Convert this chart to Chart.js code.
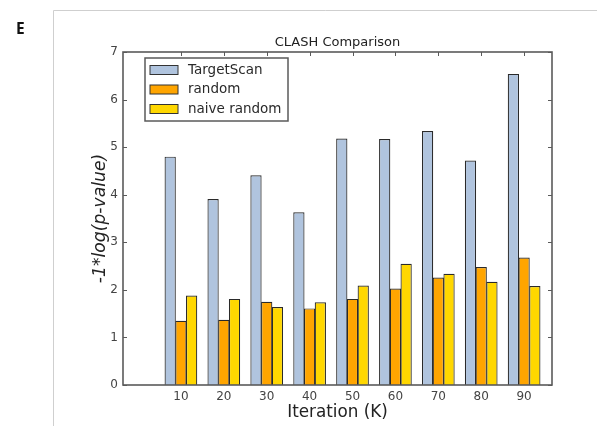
<!DOCTYPE html>
<html>
<head>
<meta charset="utf-8">
<script src="https://cdn.jsdelivr.net/npm/chart.js@4/dist/chart.umd.min.js"></script>
<style>
  html, body { margin: 0; padding: 0; background: #fff; }
  #c { display: block; }
</style>
</head>
<body>
<canvas id="c" width="597" height="426"></canvas>
<script>
// Iterations (thousands) and -1*log(p-value) per method
const iterations = [10, 20, 30, 40, 50, 60, 70, 80, 90];
const targetScan = [4.80, 3.91, 4.41, 3.63, 5.18, 5.17, 5.34, 4.72, 6.54];
const randomSet = [1.35, 1.37, 1.75, 1.61, 1.81, 2.03, 2.26, 2.48, 2.68];
const naiveRandom = [1.88, 1.81, 1.64, 1.74, 2.09, 2.55, 2.34, 2.17, 2.08];
const yTicks = [0, 1, 2, 3, 4, 5, 6, 7];
const seriesNames = ['TargetScan', 'random', 'naive random'];

const FONT = "'DejaVu Sans', sans-serif";
const AXIS_COLOR = '#5a5a5a';

function points(values) {
  return iterations.map((x, i) => ({ x: x, y: values[i] }));
}

// Figure decorations: panel letter, outer frame, plot title, axes box with inward ticks, legend
const decor = {
  id: 'decor',
  beforeDraw(chart) {
    const ctx = chart.ctx;
    ctx.save();
    ctx.strokeStyle = '#cfcfcf';
    ctx.lineWidth = 1;
    ctx.beginPath();
    ctx.moveTo(53.5, 426);
    ctx.lineTo(53.5, 10.5);
    ctx.lineTo(597, 10.5);
    ctx.stroke();
    ctx.fillStyle = '#111';
    ctx.font = "bold 15.5px 'Open Sans', sans-serif";
    ctx.textBaseline = 'alphabetic';
    ctx.fillText('E', 16, 33.5);
    ctx.restore();
  },
  afterDatasetsDraw(chart) {
    const ctx = chart.ctx;
    const a = chart.chartArea;
    const xs = chart.scales.x, ys = chart.scales.y;
    ctx.save();
    // title
    ctx.fillStyle = '#222';
    ctx.font = '13px ' + FONT;
    ctx.textAlign = 'center';
    ctx.textBaseline = 'middle';
    ctx.fillText('CLASH Comparison', (a.left + a.right) / 2, 42.5);

    // axes box
    ctx.strokeStyle = AXIS_COLOR;
    ctx.lineWidth = 1.6;
    ctx.strokeRect(a.left, a.top, a.right - a.left, a.bottom - a.top);

    // inward tick marks
    ctx.lineWidth = 1;
    ctx.beginPath();
    yTicks.forEach(v => {
      const py = Math.round(ys.getPixelForValue(v)) + 0.5;
      ctx.moveTo(a.left, py); ctx.lineTo(a.left + 4, py);
      ctx.moveTo(a.right, py); ctx.lineTo(a.right - 4, py);
    });
    iterations.forEach(v => {
      const px = Math.round(xs.getPixelForValue(v)) + 0.5;
      ctx.moveTo(px, a.top); ctx.lineTo(px, a.top + 4);
    });
    ctx.stroke();

    // legend
    const lx = a.left + 22, ly = a.top + 6, lw = 143, lh = 63;
    ctx.fillStyle = '#fff';
    ctx.fillRect(lx, ly, lw, lh);
    ctx.strokeStyle = AXIS_COLOR;
    ctx.lineWidth = 1.5;
    ctx.strokeRect(lx, ly, lw, lh);
    ctx.font = '13.5px ' + FONT;
    ctx.textAlign = 'left';
    ctx.textBaseline = 'middle';
    chart.data.datasets.forEach((ds, i) => {
      const cy = ly + 12 + i * 19.5;
      ctx.fillStyle = ds.backgroundColor;
      ctx.fillRect(lx + 5, cy - 4.5, 28, 9);
      ctx.strokeStyle = '#333';
      ctx.lineWidth = 1;
      ctx.strokeRect(lx + 5, cy - 4.5, 28, 9);
      ctx.fillStyle = '#2a2a2a';
      ctx.fillText(ds.label, lx + 43, cy);
    });
    ctx.restore();
  }
};

new Chart(document.getElementById('c'), {
  type: 'bar',
  data: {
    datasets: [
      { label: seriesNames[0], data: points(targetScan), backgroundColor: '#b0c4de' },
      { label: seriesNames[1], data: points(randomSet), backgroundColor: '#ffa500' },
      { label: seriesNames[2], data: points(naiveRandom), backgroundColor: '#ffd700' }
    ]
  },
  options: {
    responsive: false,
    animation: false,
    devicePixelRatio: 1,
    layout: { padding: { left: 53, top: 52, right: 45, bottom: 0 } },
    datasets: {
      bar: { borderColor: '#2a2a2a', borderWidth: 1.2, categoryPercentage: 0.75, barPercentage: 1.05 }
    },
    plugins: {
      legend: { display: false },
      title: { display: false },
      tooltip: { enabled: false }
    },
    scales: {
      x: {
        type: 'linear',
        offset: false,
        min: -3.5,
        max: 96.5,
        afterBuildTicks(scale) { scale.ticks = iterations.map(v => ({ value: v })); },
        afterFit(scale) { scale.height = 41; },
        grid: { display: false, drawTicks: false, offset: false },
        border: { display: false },
        ticks: { padding: 5, color: '#444', font: { family: FONT, size: 12 }, maxRotation: 0, autoSkip: false },
        title: {
          display: true,
          text: 'Iteration (K)',
          color: '#222',
          font: { family: FONT, size: 16.8 },
          padding: { top: 0, bottom: 3 }
        }
      },
      y: {
        min: 0,
        max: 7,
        afterBuildTicks(scale) { scale.ticks = yTicks.map(v => ({ value: v })); },
        afterFit(scale) { scale.width = 70; },
        grid: { display: false, drawTicks: false },
        border: { display: false },
        ticks: { padding: 5, color: '#444', font: { family: FONT, size: 12 } },
        title: {
          display: true,
          text: '-1*log(p-value)',
          color: '#222',
          font: { family: FONT, size: 17.2, style: 'italic' },
          padding: { top: 37, bottom: 0 }
        }
      }
    }
  },
  plugins: [decor]
});
</script>
</body>
</html>
